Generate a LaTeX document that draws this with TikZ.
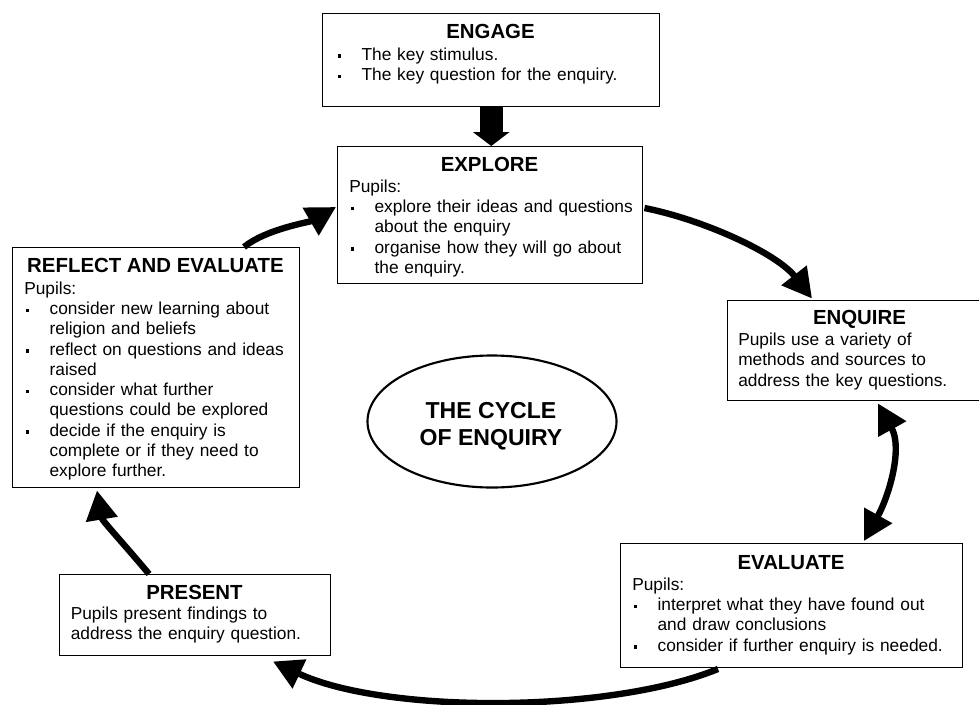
\documentclass[tikz,border=0pt]{standalone}
\usepackage{fontspec}
\setmainfont{Liberation Sans}
\usetikzlibrary{arrows.meta,calc,shapes.geometric}
\newcommand{\bl}{\makebox[19pt][l]{\hspace{1.3pt}\raisebox{1.8pt}{\rule{2.6pt}{2.6pt}}}}
\newcommand{\ind}{\hspace*{19pt}}
\newcommand{\st}{\rule{0pt}{10pt}}
\begin{document}
\begin{tikzpicture}[x=0.75pt,y=-0.75pt,
  box/.style={draw, line width=1.1pt, anchor=north west, inner sep=0pt},
  head/.style={anchor=base, inner sep=0pt, font=\fontsize{15.3}{18}\selectfont\bfseries},
  body/.style={anchor=north west, inner sep=0pt, align=left, text width=320pt, font=\fontsize{13}{15.2}\selectfont},
  cyc/.style={line width=4.8pt, -{Triangle[length=22pt,width=23pt]}},
  cycboth/.style={line width=4.8pt, {Triangle[length=22pt,width=23pt]}-{Triangle[length=22pt,width=23pt]}},
  blockarrow/.style={line width=17pt, -{Triangle[length=10.5pt,width=27pt]}},
]
\useasboundingbox (0,0) rectangle (979,704);
\fill[white] (0,0) rectangle (979,704);

% ENGAGE
\node[box, minimum width=0.75pt*337, minimum height=0.75pt*93] (engage) at (322,13) {};
\node[head] (engageH) at (490.5,38) {ENGAGE};
\node[body] (engageT) at (336,46.7) {\st\bl The key stimulus.\\ \bl The key question for the enquiry.};

% EXPLORE
\node[box, minimum width=0.75pt*305, minimum height=0.75pt*137] (explore) at (337,146) {};
\node[head] (exploreH) at (489.5,171) {EXPLORE};
\node[body] (exploreT) at (349,178.7) {\st Pupils:\\
\bl explore their ideas and questions\\
\ind about the enquiry\\
\bl organise how they will go about\\
\ind the enquiry.};

% REFLECT AND EVALUATE
\node[box, minimum width=0.75pt*287, minimum height=0.75pt*240] (reflect) at (12,247) {};
\node[head] (reflectH) at (155.5,272) {REFLECT AND EVALUATE};
\node[body] (reflectT) at (24,280.7) {\st Pupils:\\
\bl consider new learning about\\
\ind religion and beliefs\\
\bl reflect on questions and ideas\\
\ind raised\\
\bl consider what further\\
\ind questions could be explored\\
\bl decide if the enquiry is\\
\ind complete or if they need to\\
\ind explore further.};

% ENQUIRE
\node[box, minimum width=0.75pt*265, minimum height=0.75pt*100] (enquire) at (727,299.5) {};
\node[head] (enquireH) at (859.5,324) {ENQUIRE};
\node[body] (enquireT) at (738,332) {\st Pupils use a variety of\\
methods and sources to\\
address the key questions.};

% EVALUATE
\node[box, minimum width=0.75pt*342, minimum height=0.75pt*123.5] (evaluate) at (620,543) {};
\node[head] (evaluateH) at (791,569) {EVALUATE};
\node[body] (evaluateT) at (632,576.7) {\st Pupils:\\
\bl interpret what they have found out\\
\ind and draw conclusions\\
\bl consider if further enquiry is needed.};

% PRESENT
\node[box, minimum width=0.75pt*271, minimum height=0.75pt*81] (present) at (59,574) {};
\node[head] (presentH) at (194.5,599) {PRESENT};
\node[body] (presentT) at (70.5,605.7) {\st Pupils present findings to\\
address the enquiry question.};

% Centre ellipse
\node[ellipse, draw, line width=1.6pt, minimum width=0.75pt*249, minimum height=0.75pt*132] (cycle) at (492,421.5) {};
\node[align=center, inner sep=0pt, font=\fontsize{17.3}{20}\selectfont\bfseries] (cycleT) at (491,426)
      {THE CYCLE\\OF ENQUIRY};

% Arrows
\draw[blockarrow] (engage.south) -- (engage.south |- explore.north);

\draw[cyc] ($(reflect.north west)+(232,0)$) .. controls +(22,-18) and +(-26,15) .. ($(explore.north west)+(-1,61)$);

\draw[cyc] ($(explore.north east)+(1,62)$) .. controls +(60,12) and +(-35,-45) .. ($(enquire.north west)+(85,-1)$);

\draw[cycboth] ($(enquire.south west)+(151,2.5)$) .. controls +(25,45) and +(25,-45) .. ($(evaluate.north west)+(244,-2)$);

\draw[cyc] ($(evaluate.south west)+(98,1)$) .. controls +(-110,45) and +(110,52) .. ($(present.south west)+(214,5)$);

\draw[cyc] ($(present.north west)+(90,0)$) .. controls +(-25,-30) and +(5,30) .. ($(reflect.south west)+(85,2)$);
\end{tikzpicture}
\end{document}
